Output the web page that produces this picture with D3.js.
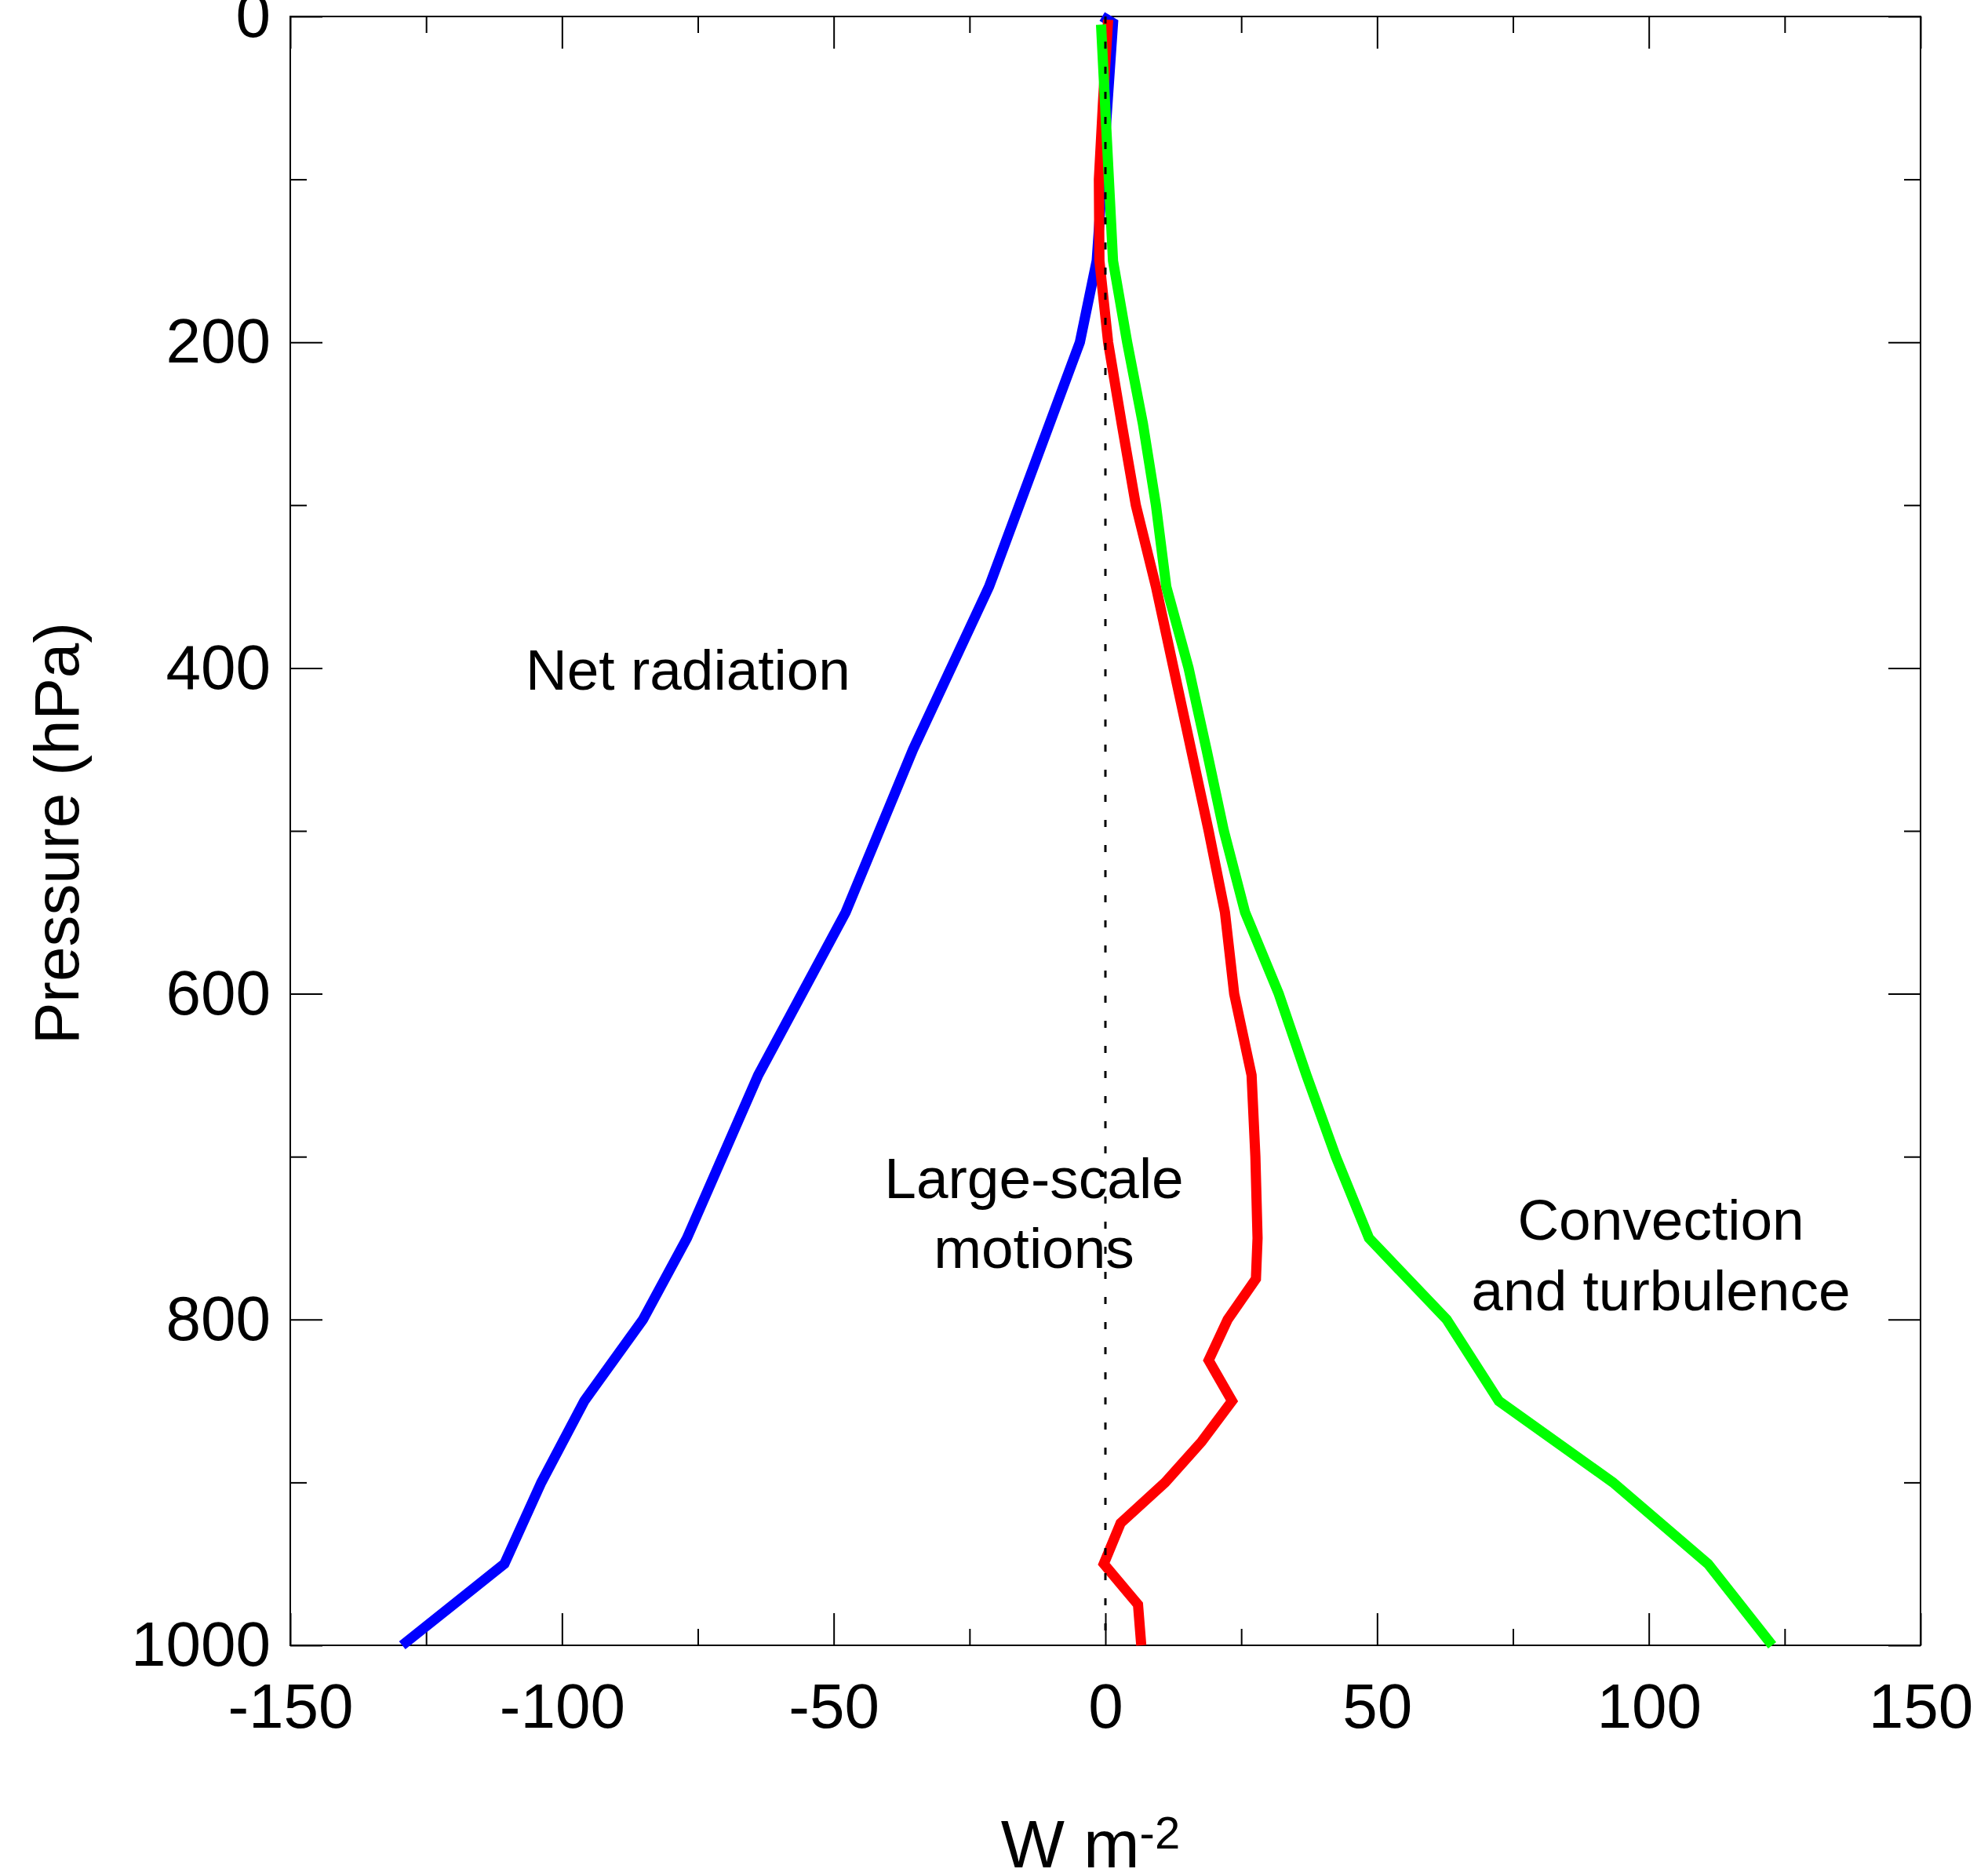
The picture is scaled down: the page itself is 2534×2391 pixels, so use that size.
<!DOCTYPE html>
<html>
<head>
<meta charset="utf-8">
<script src="https://cdn.jsdelivr.net/npm/d3@7"></script>
<style>
  body { margin: 0; background: #fff; }
  svg { display: block; }
  text { font-family: "Liberation Sans", Arial, Helvetica, sans-serif; fill: #000; }
  .tick line { stroke: #000; stroke-width: 2; }
</style>
</head>
<body>
<svg class="main"></svg>
<script>
// values (pressure in hPa, flux in W m-2)
const netRadiationLevels = [0, 4, 150, 200, 350, 450, 550, 650, 750, 800, 850, 900, 950, 1000];
const netRadiationFlux = [-0.6, 1.4, -1.6, -4.7, -21.4, -35.4, -47.8, -63.9, -77.0, -85.1, -95.9, -103.8, -110.6, -129.4];

const largeScaleLevels = [2, 50, 100, 150, 200, 250, 300, 350, 500, 550, 600, 650, 700, 750, 775, 800, 825, 850, 875, 900, 925, 950, 975, 1000];
const largeScaleFlux = [0.5, -0.4, -1.2, -1.1, 0.5, 3.0, 5.6, 9.3, 19.0, 22.0, 23.7, 26.9, 27.6, 28.0, 27.7, 22.5, 19.0, 23.3, 17.7, 11.0, 2.8, -0.3, 6.0, 6.6];

const convectionLevels = [5, 150, 200, 250, 300, 350, 400, 450, 500, 550, 600, 650, 700, 750, 800, 850, 900, 950, 1000];
const convectionFlux = [-0.8, 1.4, 4.0, 6.9, 9.3, 11.2, 15.3, 18.6, 21.8, 25.7, 31.9, 37.0, 42.4, 48.5, 62.8, 72.4, 93.4, 110.9, 122.7];

const xMajorTicks = [-150, -100, -50, 0, 50, 100, 150];
const xMinorTicks = [-125, -75, -25, 25, 75, 125];
const yMajorTicks = [0, 200, 400, 600, 800, 1000];
const yMinorTicks = [100, 300, 500, 700, 900];

const W = 2534, H = 2391;
const margin = { left: 370, top: 21, right: 86, bottom: 294 };
const width = W - margin.left - margin.right;
const height = H - margin.top - margin.bottom;

const svg = d3.select(".main").attr("width", W).attr("height", H);
const g = svg.append("g").attr("transform", `translate(${margin.left},${margin.top})`);

const x = d3.scaleLinear().domain([-150, 150]).range([0, width]);
const y = d3.scaleLinear().domain([0, 1000]).range([0, height]);

const major = 41, minor = 21;
const plain = d => String(d); // hyphen minus, no thousands comma

function axisGroup(axis, tx, ty) {
  const a = g.append("g").attr("transform", `translate(${tx},${ty})`).call(axis);
  a.select(".domain").remove();
  return a;
}

// bottom (labelled) + top
axisGroup(d3.axisBottom(x).tickValues(xMajorTicks).tickFormat(plain).tickSizeInner(-major).tickSizeOuter(0).tickPadding(48), 0, height)
  .selectAll("text").attr("font-size", 80);
axisGroup(d3.axisBottom(x).tickValues(xMinorTicks).tickSizeInner(-minor).tickSizeOuter(0).tickFormat(""), 0, height);
axisGroup(d3.axisTop(x).tickValues(xMajorTicks).tickSizeInner(-major).tickSizeOuter(0).tickFormat(""), 0, 0);
axisGroup(d3.axisTop(x).tickValues(xMinorTicks).tickSizeInner(-minor).tickSizeOuter(0).tickFormat(""), 0, 0);

// left (labelled) + right
axisGroup(d3.axisLeft(y).tickValues(yMajorTicks).tickFormat(plain).tickSizeInner(-major).tickSizeOuter(0).tickPadding(25), 0, 0)
  .selectAll("text").attr("font-size", 80);
axisGroup(d3.axisLeft(y).tickValues(yMinorTicks).tickSizeInner(-minor).tickSizeOuter(0).tickFormat(""), 0, 0);
axisGroup(d3.axisRight(y).tickValues(yMajorTicks).tickSizeInner(-major).tickSizeOuter(0).tickFormat(""), width, 0);
axisGroup(d3.axisRight(y).tickValues(yMinorTicks).tickSizeInner(-minor).tickSizeOuter(0).tickFormat(""), width, 0);

g.selectAll(".tick text").attr("font-family", "'Liberation Sans', Arial, Helvetica, sans-serif");

// frame
g.append("rect")
  .attr("width", width)
  .attr("height", height)
  .attr("fill", "none")
  .attr("stroke", "#000")
  .attr("stroke-width", 2);

const line = d3.line().x(d => x(d[1])).y(d => y(d[0]));

const profiles = [
  { levels: netRadiationLevels, flux: netRadiationFlux, color: "#0000ff" },
  { levels: largeScaleLevels, flux: largeScaleFlux, color: "#ff0000" },
  { levels: convectionLevels, flux: convectionFlux, color: "#00ff00" }
];

profiles.forEach(p => {
  g.append("path")
    .datum(d3.zip(p.levels, p.flux))
    .attr("d", line)
    .attr("fill", "none")
    .attr("stroke", p.color)
    .attr("stroke-width", 13)
    .attr("stroke-linejoin", "miter");
});

// zero line, dashed, on top
g.append("line")
  .attr("x1", x(0)).attr("x2", x(0))
  .attr("y1", y(0)).attr("y2", y(1000))
  .attr("stroke", "#000")
  .attr("stroke-width", 3)
  .attr("stroke-dasharray", "9,23");

// curve labels
const labels = g.append("g").attr("font-size", 73).attr("text-anchor", "middle");
labels.append("text").attr("x", 877 - margin.left).attr("y", 879 - margin.top).text("Net radiation");
labels.append("text").attr("x", 1318 - margin.left).attr("y", 1527 - margin.top).text("Large-scale");
labels.append("text").attr("x", 1318 - margin.left).attr("y", 1616 - margin.top).text("motions");
labels.append("text").attr("x", 2117 - margin.left).attr("y", 1580 - margin.top).text("Convection");
labels.append("text").attr("x", 2117 - margin.left).attr("y", 1670 - margin.top).text("and turbulence");

// axis titles
const xTitle = svg.append("text")
  .attr("x", 1390)
  .attr("y", 2380)
  .attr("font-size", 86)
  .attr("text-anchor", "middle");
xTitle.append("tspan").text("W m");
xTitle.append("tspan").attr("font-size", 58).attr("dy", -24).text("-2");

svg.append("text")
  .attr("transform", "translate(100,1062) rotate(-90)")
  .attr("font-size", 80)
  .attr("text-anchor", "middle")
  .text("Pressure (hPa)");
</script>
</body>
</html>
